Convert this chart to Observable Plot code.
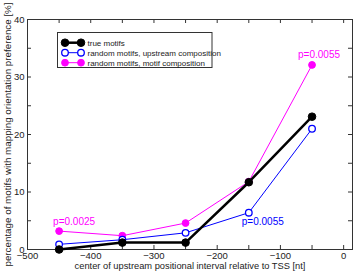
<!DOCTYPE html>
<html>
<head>
<meta charset="utf-8">
<script src="https://cdn.jsdelivr.net/npm/d3@7"></script>
<script src="https://cdn.jsdelivr.net/npm/@observablehq/plot@0.6"></script>
<style>
  html, body { margin: 0; padding: 0; background: white; }
</style>
</head>
<body>
<div id="chart"></div>
<script>
// ---- data ----
const positions = [-450, -350, -250, -150, -50];
const trueMotifs = [0.0, 1.2, 1.2, 11.7, 23.1];
const randomUpstream = [0.9, 1.7, 2.9, 6.4, 21.0];
const randomMotifComp = [3.2, 2.4, 4.6, 11.8, 32.1];
const seriesNames = ["true motifs", "random motifs, upstream composition", "random motifs, motif composition"];
const xTickLabels = [-500, -400, -300, -200, -100, 0];
const yTickLabels = [0, 10, 20, 30, 40];
const xMinorTicks = [-500, -450, -400, -350, -300, -250, -200, -150, -100, -50, 0];
const yMinorTicks = [0, 5, 10, 15, 20, 25, 30, 35, 40];
const pLabels = ["p=0.0025", "p=0.0055", "p=0.0055"];
const pSeries = [2, 1, 2];
const pIndex = [0, 3, 4];
const xLabel = "center of upstream positional interval relative to TSS [nt]";
const yLabel = "percentage of motifs with mapping orientation preference [%]";

// ---- styles ----
const seriesValues = [trueMotifs, randomUpstream, randomMotifComp];
const styles = [
  {color: "#000000", lw: 2.5, r: 3.8, fill: "#000000", sw: 1},
  {color: "#0000ff", lw: 1, r: 3.3, fill: "white", sw: 1.3},
  {color: "#ff00ff", lw: 1, r: 3.4, fill: "#ff00ff", sw: 1}
];
const pOffsets = [{dx: -6, dy: -9}, {dx: -7, dy: 9.5}, {dx: -14, dy: -10}];

const rows = [];
seriesNames.forEach((s, k) => positions.forEach((x, i) => rows.push({x, y: seriesValues[k][i], k})));
const annots = pLabels.map((t, j) => ({text: t, k: pSeries[j], x: positions[pIndex[j]], y: seriesValues[pSeries[j]][pIndex[j]]}));

const W = 358, H = 273, mL = 27, mR = 6, mT = 19, mB = 24;
const pw = W - mL - mR, ph = H - mT - mB;
const frameColor = "#333";
const drawOrder = [2, 1, 0];

const marks = [
  Plot.tickX(xMinorTicks, {x: d => d, insetTop: ph - 4, stroke: frameColor}),
  Plot.tickX(xMinorTicks, {x: d => d, insetBottom: ph - 4, stroke: frameColor}),
  Plot.tickY(yMinorTicks, {y: d => d, insetRight: pw - 4, stroke: frameColor}),
  Plot.tickY(yMinorTicks, {y: d => d, insetLeft: pw - 4, stroke: frameColor}),
  Plot.axisX({ticks: xTickLabels, tickSize: 0, tickPadding: 3, label: null, fontSize: 9.5, fill: "#222"}),
  Plot.axisY({ticks: yTickLabels, tickSize: 0, tickPadding: 3, label: null, fontSize: 9.5, fill: "#222"}),
  Plot.frame({stroke: frameColor}),
  Plot.text([xLabel], {text: d => d, frameAnchor: "bottom", textAnchor: "middle", lineAnchor: "middle", dy: 17, fontSize: 9.3, fill: "#222"}),
  Plot.text([yLabel], {text: d => d, frameAnchor: "left", textAnchor: "middle", lineAnchor: "middle", rotate: -90, dx: -20, fontSize: 9.8, fill: "#222"})
];
for (const k of drawOrder) {
  const st = styles[k];
  const data = rows.filter(d => d.k === k);
  marks.push(Plot.line(data, {x: "x", y: "y", stroke: st.color, strokeWidth: st.lw}));
  marks.push(Plot.dot(data, {x: "x", y: "y", r: st.r, fill: st.fill, stroke: st.color, strokeWidth: st.sw}));
}
annots.forEach((a, j) => {
  marks.push(Plot.text([a], {x: "x", y: "y", text: "text", fill: styles[a.k].color, textAnchor: "start",
    dx: pOffsets[j].dx, dy: pOffsets[j].dy, fontSize: 10}));
});

const chart = Plot.plot({
  width: W, height: H,
  marginLeft: mL, marginRight: mR, marginTop: mT, marginBottom: mB,
  x: {domain: [-500, 14]},
  y: {domain: [0, 40]},
  style: {fontFamily: "'Liberation Sans', Arial, sans-serif", background: "white", overflow: "visible"},
  marks
});
document.getElementById("chart").appendChild(chart);

// ---- legend ----
const svg = d3.select(chart);
const lg = svg.append("g").attr("font-family", "'Liberation Sans', Arial, sans-serif").attr("text-anchor", "start");
lg.append("rect").attr("x", 57.5).attr("y", 32.5).attr("width", 154.5).attr("height", 35)
  .attr("fill", "white").attr("stroke", frameColor);
seriesNames.forEach((name, k) => {
  const st = styles[k];
  const yy = 42.7 + k * 10;
  lg.append("line").attr("x1", 65).attr("x2", 81).attr("y1", yy).attr("y2", yy)
    .attr("stroke", st.color).attr("stroke-width", st.lw);
  [65, 81].forEach(cx => lg.append("circle").attr("cx", cx).attr("cy", yy).attr("r", st.r)
    .attr("fill", st.fill).attr("stroke", st.color).attr("stroke-width", st.sw));
  lg.append("text").attr("x", 87.5).attr("y", yy).attr("dy", "0.35em").attr("font-size", 8)
    .attr("text-anchor", "start").attr("fill", "#222").text(name);
});
</script>
</body>
</html>
